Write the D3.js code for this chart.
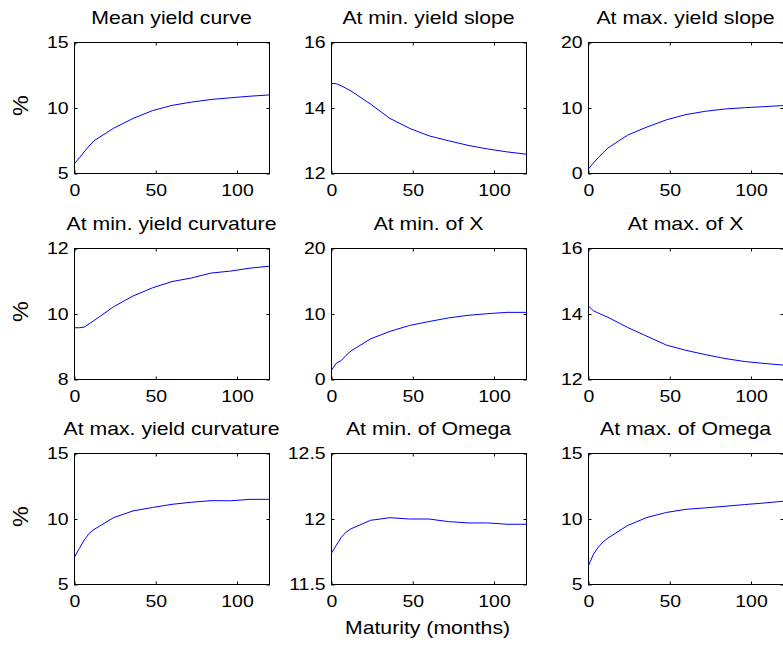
<!DOCTYPE html>
<html><head><meta charset="utf-8">
<script src="https://cdn.jsdelivr.net/npm/d3@7"></script>
<style>
body{margin:0;background:#fff}
svg{display:block}
text{font-family:Arial,"Liberation Sans",Helvetica,sans-serif;fill:#000}
</style>
</head><body><div id="chart"></div>
<script>
// ---- data ----
const maturities = [0, 3, 6, 9, 12, 24, 36, 48, 60, 72, 84, 96, 108, 120];
const titles = ["Mean yield curve", "At min. yield slope", "At max. yield slope",
                "At min. yield curvature", "At min. of X", "At max. of X",
                "At max. yield curvature", "At min. of Omega", "At max. of Omega"];
const meanYield      = [5.75, 6.2, 6.65, 7.1, 7.5, 8.45, 9.2, 9.8, 10.2, 10.45, 10.65, 10.78, 10.9, 11.0];
const minSlope       = [14.75, 14.74, 14.68, 14.6, 14.52, 14.12, 13.68, 13.38, 13.15, 13.0, 12.86, 12.75, 12.66, 12.59];
const maxSlope       = [0.7, 1.6, 2.4, 3.2, 3.9, 5.85, 7.1, 8.2, 9.0, 9.5, 9.85, 10.05, 10.2, 10.38];
const minCurvature   = [9.58, 9.58, 9.6, 9.7, 9.8, 10.22, 10.55, 10.8, 10.99, 11.1, 11.25, 11.31, 11.4, 11.46];
const minX           = [1.45, 2.5, 2.9, 3.7, 4.35, 6.2, 7.35, 8.25, 8.85, 9.4, 9.8, 10.05, 10.25, 10.25];
const maxX           = [14.24, 14.1, 14.03, 13.96, 13.9, 13.59, 13.32, 13.05, 12.89, 12.76, 12.64, 12.55, 12.49, 12.44];
const maxCurvature   = [7.1, 7.75, 8.4, 8.9, 9.2, 10.1, 10.62, 10.88, 11.12, 11.28, 11.4, 11.39, 11.5, 11.5];
const minOmega       = [11.74, 11.8, 11.86, 11.9, 11.925, 11.99, 12.01, 12.0, 12.0, 11.98, 11.97, 11.97, 11.96, 11.96];
const maxOmega       = [6.45, 7.3, 7.85, 8.25, 8.55, 9.5, 10.12, 10.5, 10.74, 10.85, 10.97, 11.1, 11.22, 11.36];
const seriesList = [meanYield, minSlope, maxSlope, minCurvature, minX, maxX, maxCurvature, minOmega, maxOmega];
const xTicks = [0, 50, 100];
const yDomains = [[5,15],[12,16],[0,20],[8,12],[0,20],[12,16],[5,15],[11.5,12.5],[5,15]];
const yTickList = [[5,10,15],[12,14,16],[0,10,20],[8,10,12],[0,10,20],[12,14,16],[5,10,15],[11.5,12,12.5],[5,10,15]];
const yLabel = "%";
const xLabel = "Maturity (months)";

// ---- layout ----
const W = 783, H = 647;
const colLeft = [74, 331, 588], rowTop = [42, 248, 453];
const pw = 195, ph = 131;
const SX = 1.18; // horizontal text stretch seen in the reference
const tickFS = 16.5, titleFS = 18;

const svg = d3.select('#chart').append('svg').attr('width', W).attr('height', H);

titles.forEach((title, i) => {
  const c = i % 3, r = Math.floor(i / 3);
  const g = svg.append('g').attr('transform', `translate(${colLeft[c] + 0.5},${rowTop[r] + 0.5})`);
  const x = d3.scaleLinear().domain([0, 120]).range([0, pw]);
  const y = d3.scaleLinear().domain(yDomains[i]).range([ph, 0]);

  // axes with inward ticks
  const fmt = d3.format('~g');
  const gb = g.append('g').attr('transform', `translate(0,${ph})`)
    .call(d3.axisBottom(x).tickValues(xTicks).tickFormat(fmt).tickSize(-3).tickSizeOuter(0).tickPadding(10.5));
  const gl = g.append('g')
    .call(d3.axisLeft(y).tickValues(yTickList[i]).tickFormat(fmt).tickSize(-3).tickSizeOuter(0).tickPadding(5));
  const gt = g.append('g').call(d3.axisTop(x).tickValues(xTicks).tickFormat('').tickSize(-3).tickSizeOuter(0));
  const gr = g.append('g').attr('transform', `translate(${pw},0)`)
    .call(d3.axisRight(y).tickValues(yTickList[i]).tickFormat('').tickSize(-3).tickSizeOuter(0));
  [gb, gl, gt, gr].forEach(a => {
    a.select('.domain').remove();
    a.attr('font-family', null).attr('font-size', null);
    a.selectAll('line').attr('stroke', '#000');
    a.selectAll('text').attr('font-size', tickFS).attr('fill', '#000').attr('transform', `scale(${SX},1)`);
  });

  // box
  g.append('rect').attr('x', 0).attr('y', 0).attr('width', pw).attr('height', ph)
    .attr('fill', 'none').attr('stroke', '#000').attr('stroke-width', 1);

  // line
  const line = d3.line().x((d, k) => x(maturities[k])).y(d => y(d));
  g.append('path').datum(seriesList[i]).attr('d', line)
    .attr('fill', 'none').attr('stroke', '#0000ff').attr('stroke-width', 1);

  // title
  svg.append('text').attr('transform', `translate(${colLeft[c] + pw / 2},${rowTop[r] - 18.5}) scale(${SX},1)`)
    .attr('text-anchor', 'middle').attr('font-size', titleFS).text(title);

  if (c === 0) {
    svg.append('text').attr('transform', `translate(27.5,${rowTop[r] + ph / 2 - 2}) scale(${SX},1) rotate(-90) scale(1.3,1)`)
      .attr('text-anchor', 'middle').attr('font-size', titleFS).text(yLabel);
  }
  if (r === 2 && c === 1) {
    svg.append('text').attr('transform', `translate(${colLeft[c] + pw / 2 - 1},634) scale(${SX},1)`)
      .attr('text-anchor', 'middle').attr('font-size', titleFS).text(xLabel);
  }
});
</script>
</body></html>
